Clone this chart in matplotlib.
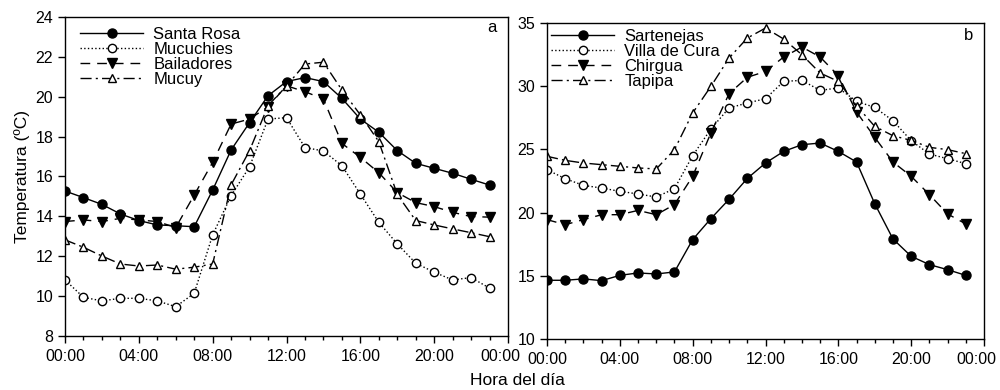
import numpy as np
import matplotlib
matplotlib.use("Agg")
import matplotlib.pyplot as plt
import matplotlib.transforms as mtransforms

plt.rcParams['font.family'] = ['Liberation Sans', 'DejaVu Sans']
plt.rcParams['font.size'] = 11.5

# Hours of the day
hours = np.arange(0, 24)
tick_hours = [0, 4, 8, 12, 16, 20, 24]
tick_labels = ['00:00', '04:00', '08:00', '12:00', '16:00', '20:00', '00:00']

# Panel a
santa_rosa = [15.27, 14.94, 14.6, 14.12, 13.79, 13.57, 13.53, 13.48, 15.32, 17.33, 18.7, 20.05,
              20.76, 20.96, 20.76, 19.92, 18.88, 18.22, 17.3, 16.66, 16.41, 16.16, 15.86, 15.57]
mucuchies = [10.81, 9.94, 9.76, 9.89, 9.89, 9.76, 9.47, 10.14, 13.07, 15.04, 16.49, 18.88,
             18.95, 17.45, 17.28, 16.54, 15.12, 13.7, 12.62, 11.65, 11.2, 10.81, 10.93, 10.4]
bailadores = [13.74, 13.82, 13.74, 13.9, 13.82, 13.74, 13.44, 15.07, 16.71, 18.63, 18.88, 19.5,
              20.55, 20.25, 19.89, 17.66, 16.96, 16.19, 15.19, 14.69, 14.49, 14.2, 13.99, 13.96]
mucuy = [12.82, 12.45, 12.01, 11.61, 11.51, 11.56, 11.35, 11.45, 11.61, 15.58, 17.3, 19.55,
         20.54, 21.64, 21.73, 20.34, 19.09, 17.75, 15.1, 13.79, 13.57, 13.37, 13.18, 12.98]

# Panel b
sartenejas = [14.64, 14.64, 14.75, 14.61, 15.03, 15.22, 15.14, 15.3, 17.86, 19.52, 21.05, 22.7,
              23.92, 24.84, 25.37, 25.5, 24.84, 24.0, 20.7, 17.91, 16.54, 15.88, 15.48, 15.03]
villa_de_cura = [23.39, 22.68, 22.15, 21.94, 21.68, 21.47, 21.23, 21.89, 24.5, 26.61, 28.28, 28.67,
                 29.01, 30.38, 30.46, 29.67, 29.86, 28.8, 28.32, 27.27, 25.69, 24.63, 24.26, 23.87]
chirgua = [19.44, 19.04, 19.44, 19.83, 19.83, 20.17, 19.83, 20.63, 22.87, 26.3, 29.41, 30.7,
           31.17, 32.31, 33.1, 32.31, 30.83, 27.96, 25.95, 24.0, 22.87, 21.42, 19.89, 19.1]
tapipa = [24.45, 24.13, 23.92, 23.79, 23.66, 23.53, 23.45, 24.98, 27.88, 29.98, 32.23, 33.81,
          34.6, 33.73, 32.49, 31.04, 30.38, 28.46, 26.82, 26.08, 25.71, 25.16, 24.98, 24.66]

fig = plt.figure(figsize=(10, 3.9), dpi=100)
ax1 = fig.add_axes([0.065, 0.1385, 0.443, 0.818])
ax2 = fig.add_axes([0.547, 0.131, 0.437, 0.810])

# styles: (linestyle, marker, fill)
styles = [('-', 'o', 'k'), (':', 'o', 'white'), ((0, (7, 5)), 'v', 'k'), ((0, (8, 3, 1.5, 3)), '^', 'white')]

def draw(ax, series, names, legend_anchor):
    for vals, name, (ls, mk, fc) in zip(series, names, styles):
        ms = 6.5 if fc == 'k' else 6
        ax.plot(hours, vals, linestyle=ls, color='k', linewidth=1.0, marker=mk,
                markersize=ms, markerfacecolor=fc, markeredgecolor='k',
                markeredgewidth=1.0, label=name)
    ax.set_xlim(0, 24)
    ax.set_xticks(tick_hours)
    ax.set_xticklabels(tick_labels)
    ax.set_xticks(hours, minor=True)
    ax.tick_params(direction='out', which='major', length=5, width=1)
    ax.tick_params(direction='out', which='minor', length=3, width=1)
    ax.tick_params(axis='x', pad=4.5)
    for sp in ax.spines.values():
        sp.set_linewidth(1.0)
    # last "00:00" label sits a little left of its tick
    last = ax.get_xticklabels()[-1]
    last.set_transform(last.get_transform() + mtransforms.ScaledTranslation(-8 / 100, 0, fig.dpi_scale_trans))
    ax.legend(loc='upper left', bbox_to_anchor=legend_anchor, frameon=False, handlelength=3.8,
              labelspacing=0.0, borderaxespad=0, borderpad=0, handletextpad=0.6, fontsize=12)

draw(ax1, [santa_rosa, mucuchies, bailadores, mucuy],
     ['Santa Rosa', 'Mucuchies', 'Bailadores', 'Mucuy'], (0.034, 0.97))
ax1.set_ylim(8, 24)
ax1.set_yticks(np.arange(8, 25, 2))
ax1.text(0.975, 0.99, 'a', transform=ax1.transAxes, ha='right', va='top', fontsize=12)
ax1.set_ylabel('Temperatura (ºC)', fontsize=12.5)

draw(ax2, [sartenejas, villa_de_cura, chirgua, tapipa],
     ['Sartenejas', 'Villa de Cura', 'Chirgua', 'Tapipa'], (0.009, 0.982))
ax2.set_ylim(10, 35)
ax2.set_yticks(np.arange(10, 36, 5))
ax2.text(0.975, 0.985, 'b', transform=ax2.transAxes, ha='right', va='top', fontsize=12)

fig.text(0.517, 0.005, 'Hora del día', ha='center', va='bottom', fontsize=12.5)

fig.savefig('out.png', dpi=100)
